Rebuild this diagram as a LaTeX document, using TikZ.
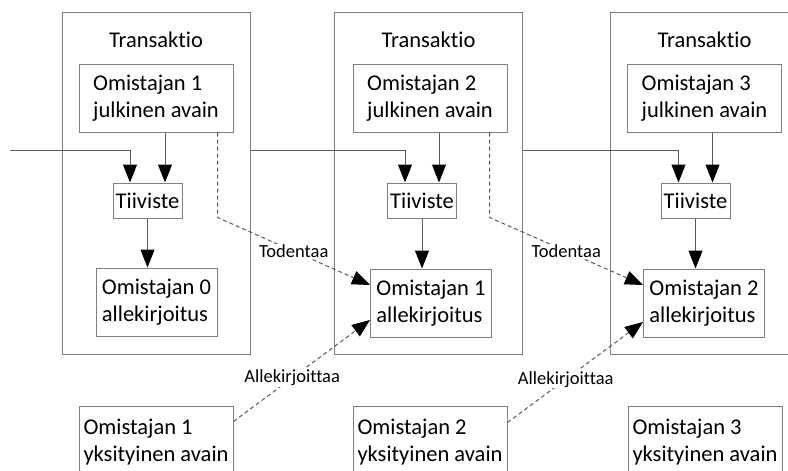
\documentclass[tikz,border=0pt]{standalone}
\usepackage{fontspec}
\setmainfont{Carlito}[Ligatures=CommonOff]
\usetikzlibrary{
  arrows.meta,
  positioning,
  calc
}
\definecolor{boxgray}{HTML}{7F7F7F}
\definecolor{linegray}{HTML}{5A5A5A}
\definecolor{dashgray}{HTML}{6E6E6E}

\begin{document}
\begin{tikzpicture}[
  x=1pt, y=-1pt,
  txbox/.style={draw=boxgray, line width=1pt, minimum width=188pt, minimum height=342pt,
    inner sep=0pt},
  keybox/.style={draw=boxgray, line width=1pt, minimum width=154pt, minimum height=68pt,
    align=left, inner sep=2pt, font=\fontsize{22.5}{27.5}\selectfont},
  hashbox/.style={draw=boxgray, line width=1pt, minimum width=69pt, minimum height=35pt,
    inner sep=2pt, font=\fontsize{22.5}{27.5}\selectfont},
  sigbox/.style={draw=boxgray, line width=1pt, minimum width=121pt, minimum height=68pt,
    align=left, inner sep=2pt, font=\fontsize{22.5}{27.5}\selectfont},
  title/.style={font=\fontsize{22.5}{27.5}\selectfont},
  arrow/.style={-{Triangle[length=18pt, width=14pt, color=black]}, draw=linegray,
    line width=1pt},
  dashline/.style={dash pattern=on 4pt off 3pt, draw=dashgray, line width=0.8pt},
  verb/.style={font=\fontsize{18.5}{22}\selectfont, fill=white, inner sep=1pt}
]
  \useasboundingbox (0,0) rectangle (788,471);

  % Transactions
  \node[txbox] (tx1) at (156,183) {};
  \node[txbox] (tx2) at (428.5,183) {};
  \node[txbox] (tx3) at (704,183) {};

  \node[title] (t1) at (156,40) {Transaktio};
  \node[title] (t2) at (428.5,40) {Transaktio};
  \node[title] (t3) at (704.5,40) {Transaktio};

  % Public keys
  \node[keybox] (pub1) at (156,98) {Omistajan 1\\julkinen avain};
  \node[keybox] (pub2) at (430,98) {Omistajan 2\\julkinen avain};
  \node[keybox] (pub3) at (704.5,98) {Omistajan 3\\julkinen avain};

  % Hashes
  \node[hashbox] (hash1) at (147.5,200.5) {Tiiviste};
  \node[hashbox] (hash2) at (422,200.5) {Tiiviste};
  \node[hashbox] (hash3) at (695.5,200.5) {Tiiviste};

  % Signatures
  \node[sigbox] (sig1) at (156.5,302) {Omistajan 0\\allekirjoitus};
  \node[sigbox] (sig2) at (431,303) {Omistajan 1\\allekirjoitus};
  \node[sigbox] (sig3) at (704,303) {Omistajan 2\\allekirjoitus};

  % Private keys
  \node[keybox, minimum height=72pt] (priv1) at (156,442) {Omistajan 1\\yksityinen avain};
  \node[keybox, minimum height=72pt] (priv2) at (430,442) {Omistajan 2\\yksityinen avain};
  \node[keybox, minimum height=72pt] (priv3) at (705,442) {Omistajan 3\\yksityinen avain};

  % Chain
  \coordinate (start) at (10,150);
  \draw[arrow] (start) -| ([xshift=-17.5pt]hash1.north);
  \draw[arrow] (tx1.east |- start) -| ([xshift=-17pt]hash2.north);
  \draw[arrow] (tx2.east |- start) -| ([xshift=-17pt]hash3.north);

  \draw[arrow] ([xshift=17.5pt]hash1.north |- pub1.south) -- ([xshift=17.5pt]hash1.north);
  \draw[arrow] ([xshift=17pt]hash2.north |- pub2.south) -- ([xshift=17pt]hash2.north);
  \draw[arrow] ([xshift=17pt]hash3.north |- pub3.south) -- ([xshift=17pt]hash3.north);

  \draw[arrow] (hash1.south) -- (hash1.south |- sig1.north);
  \draw[arrow] (hash2.south) -- (hash2.south |- sig2.north);
  \draw[arrow] (hash3.south) -- (hash3.south |- sig3.north);

  % Verify
  \draw[dashline, arrow] ([xshift=-16pt]pub1.south east) -- ++(0,85)
    -- node[verb] {Todentaa} ([yshift=18pt]sig2.west);
  \draw[dashline, arrow] ([xshift=-18pt]pub2.south east) -- ++(0,85)
    -- node[verb] {Todentaa} ([yshift=18pt]sig3.west);

  % Sign
  \draw[dashline, arrow] ([yshift=-16pt]priv1.north east)
    -- node[verb, pos=0.43] {Allekirjoittaa} ([yshift=-17pt]sig2.west);
  \draw[dashline, arrow] ([yshift=-17pt]priv2.north east)
    -- node[verb, pos=0.43] {Allekirjoittaa} ([yshift=-19pt]sig3.west);

\end{tikzpicture}
\end{document}
